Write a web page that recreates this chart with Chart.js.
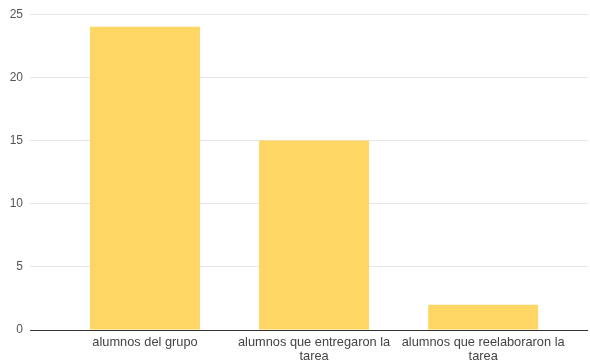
<!DOCTYPE html>
<html>
<head>
<meta charset="utf-8">
<script src="https://cdn.jsdelivr.net/npm/chart.js@4/dist/chart.umd.min.js"></script>
<style>
  html, body { margin: 0; padding: 0; background: #fff; }
  #wrap { width: 590px; height: 361px; position: relative; }
</style>
</head>
<body>
<div id="wrap"><canvas id="chart"></canvas></div>
<script>
// datos
const categorias = [
  'alumnos del grupo',
  ['alumnos que entregaron la', 'tarea'],
  ['alumnos que reelaboraron la', 'tarea']
];
const valores = [24, 15, 2];
const ticksY = [0, 5, 10, 15, 20, 25];

const puntos = valores.map((v, i) => ({ x: i, y: v }));

new Chart(document.getElementById('chart'), {
  type: 'bar',
  data: {
    datasets: [{
      data: puntos,
      backgroundColor: '#FDD663',
      borderWidth: 0,
      categoryPercentage: 1,
      barPercentage: 0.65
    }]
  },
  options: {
    responsive: true,
    maintainAspectRatio: false,
    animation: false,
    layout: { padding: { top: 10, right: 2, left: 0, bottom: 0 } },
    plugins: { legend: { display: false }, tooltip: { enabled: false } },
    scales: {
      x: {
        type: 'linear',
        offset: false,
        min: -0.68,
        max: 2.62,
        grid: { display: false, drawTicks: false },
        border: { display: false },
        afterBuildTicks: s => { s.ticks = categorias.map((_, i) => ({ value: i })); },
        afterFit: s => { s.height = 31; },
        ticks: {
          autoSkip: false,
          maxRotation: 0,
          padding: 6,
          color: '#444',
          font: { family: 'Arial, "Liberation Sans"', size: 12.8, lineHeight: 1.05 },
          callback: v => categorias[v]
        }
      },
      y: {
        min: 0,
        max: 25,
        afterBuildTicks: s => { s.ticks = ticksY.map(v => ({ value: v })); },
        afterFit: s => { s.width = 30; },
        border: { display: false },
        grid: {
          drawTicks: false,
          color: ctx => ctx.tick && ctx.tick.value === 0 ? '#333' : '#e6e6e6',
          lineWidth: 1
        },
        ticks: {
          padding: 7,
          color: '#555',
          font: { family: 'Arial, "Liberation Sans"', size: 12 }
        }
      }
    }
  }
});
</script>
</body>
</html>
